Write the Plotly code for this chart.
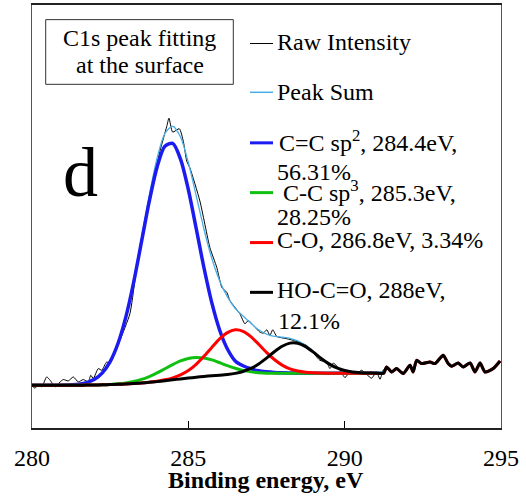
import plotly.graph_objects as go

# ---------------- data ----------------
energy = [280.00, 280.25, 280.50, 280.75, 281.00, 281.25, 281.50, 281.75, 282.00, 282.25,
          282.50, 282.75, 283.00, 283.25, 283.50, 283.75, 284.00, 284.25, 284.50, 284.75,
          285.00, 285.25, 285.50, 285.75, 286.00, 286.25, 286.50, 286.75, 287.00, 287.25,
          287.50, 287.75, 288.00, 288.25, 288.50, 288.75, 289.00, 289.25, 289.50, 289.75,
          290.00, 290.25, 290.50, 290.75, 291.00, 291.25]

cc_sp2 = [43.0, 43.0, 43.0, 43.0, 43.1, 43.4, 44.0, 45.6, 48.9, 55.4,
          66.7, 84.9, 111.4, 146.2, 186.7, 227.7, 262.1, 283.0, 285.9, 270.1,
          239.5, 200.7, 161.0, 125.9, 98.5, 79.4, 67.4, 62.5, 59.5, 57.5,
          56.5, 55.8, 55.4, 55.2, 55.1, 55.0, 55.0, 55.0, 55.0, 55.0,
          55.0, 55.0, 55.0, 55.0, 55.0, 55.0]

cc_sp3 = [43.0, 43.0, 43.0, 43.0, 43.0, 43.0, 43.0, 43.1, 43.2, 43.4,
          43.8, 44.4, 45.3, 46.8, 48.8, 51.7, 55.3, 59.5, 63.7, 67.4,
          69.9, 70.9, 70.3, 68.4, 65.6, 62.6, 60.0, 57.9, 56.4, 55.6,
          55.1, 55.0, 54.9, 55.0, 55.0, 55.0, 55.0, 55.0, 55.0, 55.0,
          55.0, 55.0, 55.0, 55.0, 55.0, 55.0]

c_o = [43.0, 43.0, 43.0, 43.0, 43.0, 43.0, 43.0, 43.1, 43.2, 43.4,
       43.6, 43.9, 44.2, 44.7, 45.2, 46.0, 46.9, 48.4, 50.4, 53.4,
       57.8, 64.0, 72.0, 80.9, 89.5, 95.8, 98.6, 97.1, 91.8, 84.2,
       76.0, 68.8, 63.2, 59.4, 57.2, 56.0, 55.4, 55.2, 55.0, 55.0,
       55.0, 55.0, 55.0, 55.0, 55.0, 55.0]

ho_c_o = [43.0, 43.0, 43.0, 43.0, 43.0, 43.0, 43.0, 43.1, 43.2, 43.4,
          43.6, 43.9, 44.2, 44.7, 45.2, 45.9, 46.6, 47.5, 48.4, 49.3,
          50.2, 51.0, 51.8, 52.5, 53.1, 53.8, 54.9, 56.8, 59.8, 64.3,
          70.2, 76.6, 82.1, 85.3, 85.2, 81.7, 76.2, 69.9, 64.4, 60.3,
          57.7, 56.2, 55.5, 55.2, 55.1, 55.0]

peak_sum = [43.0, 43.0, 43.0, 43.0, 43.1, 43.4, 44.0, 45.6, 48.9, 55.5,
            66.9, 85.4, 112.5, 148.3, 190.3, 233.6, 271.1, 295.9, 303.2, 292.3,
            266.8, 233.6, 199.7, 170.5, 148.0, 131.7, 120.1, 112.6, 105.2, 98.7,
            94.3, 92.1, 91.2, 90.1, 87.5, 82.7, 76.6, 70.1, 64.4, 60.3,
            57.7, 56.2, 55.5, 55.2, 55.1, 55.0]

raw_energy = [280.02, 280.10, 280.19, 280.31, 280.47, 280.58, 280.74, 280.90, 281.00, 281.16,
              281.32, 281.48, 281.64, 281.80, 281.88, 281.96, 282.12, 282.23, 282.39, 282.49,
              282.81, 283.13, 283.29, 283.45, 283.65, 283.88, 284.09, 284.31, 284.38, 284.50,
              284.71, 284.84, 284.95, 285.05, 285.37, 285.69, 285.91, 286.01, 286.07, 286.23,
              286.33, 286.65, 286.81, 286.92, 287.08, 287.29, 287.40, 287.51, 287.61, 287.70,
              287.83, 288.15, 288.36, 288.78, 289.21, 289.42, 289.53, 289.64, 289.85, 290.01,
              290.17, 290.38, 290.54, 290.70, 290.86, 291.02, 291.13, 291.23, 291.34, 291.50,
              291.66, 291.87, 292.09, 292.19, 292.30, 292.46, 292.73, 292.89, 293.15, 293.31,
              293.42, 293.63, 293.79, 294.01, 294.17, 294.33, 294.49, 294.75, 294.97]
raw_intensity = [42.0, 40.0, 44.0, 41.3, 51.3, 48.0, 41.3, 46.3, 48.7, 47.3,
                 51.3, 46.3, 48.7, 46.3, 53.0, 49.7, 59.7, 58.0, 66.3, 65.0,
                 88.0, 114.7, 148.0, 181.3, 214.7, 248.0, 278.0, 303.0, 311.3, 297.3,
                 300.7, 288.0, 268.0, 261.3, 228.0, 181.3, 161.3, 148.0, 141.3, 136.3,
                 128.0, 114.7, 104.7, 108.0, 103.0, 96.3, 95.3, 98.7, 93.0, 98.7,
                 92.0, 89.7, 88.0, 83.0, 68.0, 66.3, 59.7, 65.3, 58.0, 50.7,
                 56.3, 54.7, 58.0, 54.0, 50.0, 56.3, 49.0, 58.0, 61.3, 56.3,
                 59.7, 54.7, 63.0, 56.3, 68.0, 64.7, 66.3, 64.7, 73.0, 64.7,
                 62.0, 65.3, 61.3, 65.3, 56.3, 65.3, 56.3, 59.7, 67.3]

legend_labels = ["Raw Intensity", "Peak Sum",
                 "C=C sp<sup>2</sup>, 284.4eV,", "56.31%",
                 " C-C sp<sup>3</sup>, 285.3eV,", "28.25%",
                 "C-O, 286.8eV, 3.34%",
                 "HO-C=O, 288eV,", "12.1%"]
box_lines = ["C1s peak fitting", "at the surface"]
panel_letter = "d"
x_title = "<b>Binding energy, eV</b>"
x_ticks = [280, 285, 290, 295]

# ---------------- geometry helpers ----------------
W, H = 526, 501
ML, MR, MT, MB = 32, 25, 3, 73
PW, PH = W - ML - MR, H - MT - MB


def fx(px):
    return (px - ML) / PW


def fy(py):
    return (H - MB - py) / PH


FONT = "Liberation Serif"

# components beyond the fit window follow the raw data (as in the original)
tail_e = [e for e in raw_energy if e > 291.3]
tail_i = [v for e, v in zip(raw_energy, raw_intensity) if e > 291.3]

fig = go.Figure()
fig.add_trace(go.Scatter(x=raw_energy, y=raw_intensity, mode="lines",
                         line=dict(color="#000000", width=1, shape="spline", smoothing=0.6),
                         name="Raw Intensity"))
fig.add_trace(go.Scatter(x=energy, y=peak_sum, mode="lines",
                         line=dict(color="#4aaee6", width=1.3, shape="spline", smoothing=0.8),
                         name="Peak Sum"))
fig.add_trace(go.Scatter(x=energy, y=cc_sp2, mode="lines",
                         line=dict(color="#1c1cf0", width=3.5, shape="spline", smoothing=0.8),
                         name="C=C sp2"))
fig.add_trace(go.Scatter(x=energy, y=cc_sp3, mode="lines",
                         line=dict(color="#10c010", width=3, shape="spline", smoothing=0.8),
                         name="C-C sp3"))
fig.add_trace(go.Scatter(x=energy + tail_e, y=c_o + tail_i, mode="lines",
                         line=dict(color="#ff0000", width=3, shape="spline", smoothing=0.6),
                         name="C-O"))
fig.add_trace(go.Scatter(x=energy + tail_e, y=ho_c_o + tail_i, mode="lines",
                         line=dict(color="#000000", width=3, shape="spline", smoothing=0.6),
                         name="HO-C=O"))

# legend (custom, to mimic the original layout)
legend_rows = [
    (41.7, "#000000", 1, [(0, 275, 40)]),
    (90.7, "#4aaee6", 1.5, [(1, 275, 90)]),
    (141.5, "#1c1cf0", 3, [(2, 277, 140), (3, 275, 171)]),
    (191.5, "#10c010", 3, [(4, 275, 190), (5, 275, 216)]),
    (241.7, "#ff0000", 3, [(6, 275, 239.5)]),
    (291.7, "#000000", 3, [(7, 275, 289.5), (8, 276, 320.5)]),
]
shapes = []
annotations = []
for ly, col, lw, texts in legend_rows:
    shapes.append(dict(type="line", xref="paper", yref="paper",
                       x0=fx(250), x1=fx(273), y0=fy(ly), y1=fy(ly),
                       line=dict(color=col, width=lw)))
    for idx, tx, ty in texts:
        annotations.append(dict(text=legend_labels[idx], xref="paper", yref="paper",
                                x=fx(tx), y=fy(ty), xanchor="left", yanchor="middle",
                                showarrow=False, font=dict(family=FONT, size=24, color="#000")))

# text box
shapes.append(dict(type="rect", xref="paper", yref="paper",
                   x0=fx(45.7), x1=fx(233.3), y0=fy(82.7), y1=fy(17.7),
                   line=dict(color="#333333", width=1)))
for t, ty in zip(box_lines, [36, 63]):
    annotations.append(dict(text=t, xref="paper", yref="paper", x=fx(139.5), y=fy(ty),
                            xanchor="center", yanchor="middle", showarrow=False,
                            font=dict(family=FONT, size=24, color="#000")))

# panel letter
annotations.append(dict(text=panel_letter, xref="paper", yref="paper", x=fx(80), y=fy(171),
                        xanchor="center", yanchor="middle", showarrow=False,
                        font=dict(family=FONT, size=70, color="#000")))

# axis title
annotations.append(dict(text=x_title, xref="paper", yref="paper", x=fx(265.7), y=fy(480),
                        xanchor="center", yanchor="middle", showarrow=False,
                        font=dict(family=FONT, size=24, color="#000")))

fig.update_layout(
    width=W, height=H,
    margin=dict(l=ML, r=MR, t=MT, b=MB, pad=0),
    paper_bgcolor="white", plot_bgcolor="white",
    showlegend=False,
    font=dict(family=FONT, size=24, color="#000"),
    shapes=shapes, annotations=annotations,
    xaxis=dict(range=[280, 295], tickvals=x_ticks, ticktext=[str(v) for v in x_ticks],
               ticks="inside", ticklen=7, tickwidth=1, tickcolor="#000",
               showline=True, linecolor="#222", linewidth=1.5, mirror=True,
               showgrid=False, zeroline=False, ticklabelstandoff=7,
               tickfont=dict(family=FONT, size=24, color="#000")),
    yaxis=dict(range=[0, 425], showticklabels=False, ticks="",
               showline=True, linecolor="#555", linewidth=1.2, mirror=True,
               showgrid=False, zeroline=False),
)

fig.write_html("out.html", config={"displayModeBar": False},
               post_script="document.body.style.margin='0';")
